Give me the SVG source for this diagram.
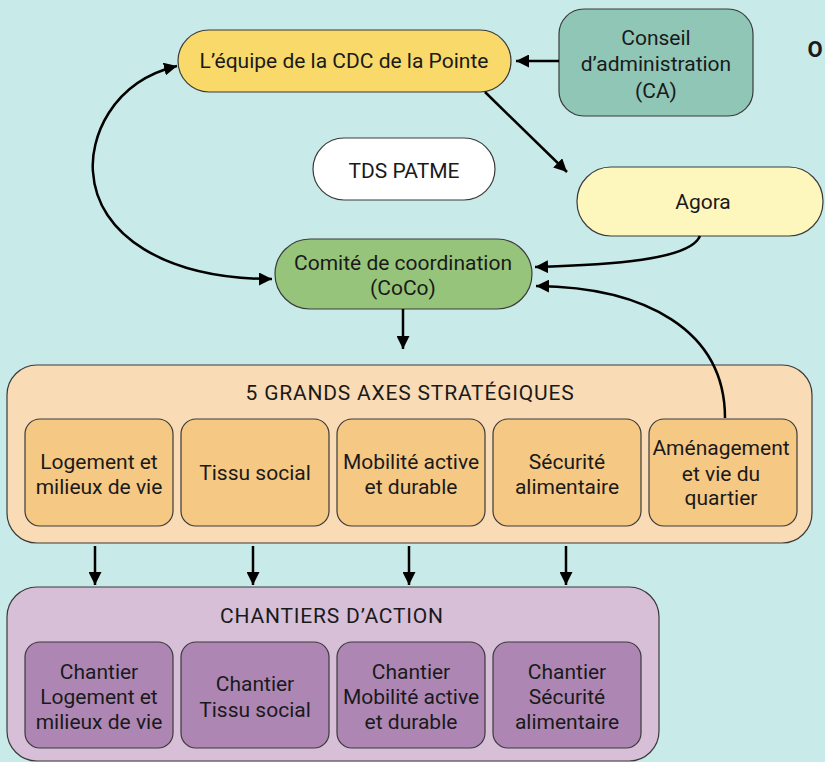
<svg xmlns="http://www.w3.org/2000/svg" width="825" height="762" viewBox="0 0 825 762">
<defs>
<style>
text{font-family:Roboto,"Liberation Sans",sans-serif;font-size:21px;fill:#1a1a1a;text-anchor:middle;dominant-baseline:central}
.tt{letter-spacing:0.8px}
.nd{stroke:#3a3a3a;stroke-width:1.2}
.ax{fill:#f5c884}
.ch{fill:#ae86b4}
.cn{fill:none;stroke:#000;stroke-width:2.5}
</style>
<marker id="ah" viewBox="0 0 12 12" refX="12" refY="6" markerWidth="13" markerHeight="13" markerUnits="userSpaceOnUse" orient="auto-start-reverse">
<path d="M0,0 L12,6 L0,12 z" fill="#000"/>
</marker>
</defs>
<rect width="825" height="762" fill="#c8eae8"/>
<text x="815" y="49" style="font-weight:bold;font-size:22px">O</text>

<g id="axes">
<rect class="nd" x="7" y="365" width="805" height="178" rx="30" fill="#f9dcb5"/>
<text class="tt" x="410" y="393">5 GRANDS AXES STRATÉGIQUES</text>
</g>
<g id="axe1"><rect class="nd ax" x="25" y="419" width="148" height="107" rx="15"/><text x="99" y="462">Logement et</text><text x="99" y="487">milieux de vie</text></g>
<g id="axe2"><rect class="nd ax" x="181" y="419" width="148" height="107" rx="15"/><text x="255" y="473">Tissu social</text></g>
<g id="axe3"><rect class="nd ax" x="337" y="419" width="148" height="107" rx="15"/><text x="411" y="462">Mobilité active</text><text x="411" y="487">et durable</text></g>
<g id="axe4"><rect class="nd ax" x="493" y="419" width="148" height="107" rx="15"/><text x="567" y="462">Sécurité</text><text x="567" y="487">alimentaire</text></g>
<g id="axe5"><rect class="nd ax" x="649" y="419" width="148" height="107" rx="15"/><text x="721" y="448">Aménagement</text><text x="721" y="474">et vie du</text><text x="721" y="498">quartier</text></g>

<g id="chantiers">
<rect class="nd" x="7" y="587" width="652" height="174" rx="30" fill="#d7bfd8"/>
<text class="tt" x="332" y="616">CHANTIERS D’ACTION</text>
</g>
<g id="ch1"><rect class="nd ch" x="25" y="642" width="148" height="106" rx="15"/><text x="99" y="672">Chantier</text><text x="99" y="697">Logement et</text><text x="99" y="722">milieux de vie</text></g>
<g id="ch2"><rect class="nd ch" x="181" y="642" width="148" height="106" rx="15"/><text x="255" y="684">Chantier</text><text x="255" y="710">Tissu social</text></g>
<g id="ch3"><rect class="nd ch" x="337" y="642" width="148" height="106" rx="15"/><text x="411" y="672">Chantier</text><text x="411" y="697">Mobilité active</text><text x="411" y="722">et durable</text></g>
<g id="ch4"><rect class="nd ch" x="493" y="642" width="148" height="106" rx="15"/><text x="567" y="672">Chantier</text><text x="567" y="697">Sécurité</text><text x="567" y="722">alimentaire</text></g>

<g id="equipe"><rect class="nd" x="178" y="30" width="333" height="62" rx="31" fill="#f8d96a"/><text x="344" y="61">L’équipe de la CDC de la Pointe</text></g>
<g id="ca"><rect class="nd" x="559" y="9" width="194" height="107" rx="25" fill="#8fc6b6"/><text x="656" y="38">Conseil</text><text x="656" y="64">d’administration</text><text x="656" y="91">(CA)</text></g>
<g id="tds"><rect class="nd" x="313" y="138" width="182" height="62" rx="31" fill="#ffffff"/><text x="404" y="171">TDS PATME</text></g>
<g id="agora"><rect class="nd" x="577" y="167" width="246" height="69" rx="34" fill="#fdf6bd"/><text x="703" y="202">Agora</text></g>
<g id="coco"><rect class="nd" x="275" y="239" width="257" height="70" rx="35" fill="#97c47b"/><text x="403" y="263">Comité de coordination</text><text x="403" y="288">(CoCo)</text></g>

<g id="connectors">
<path class="cn" d="M559,61 L516,61" marker-end="url(#ah)"/>
<path class="cn" d="M485,92 L567,172" marker-end="url(#ah)"/>
<path class="cn" d="M177,66 C110,82 90,140 93,172 C97,235 165,279 272,279" marker-start="url(#ah)" marker-end="url(#ah)"/>
<path class="cn" d="M700,236 C690,260 610,265 535,267" marker-end="url(#ah)"/>
<path class="cn" d="M725,418 C725,330 645,287 536,286" marker-end="url(#ah)"/>
<path class="cn" d="M403,309 L403,349" marker-end="url(#ah)"/>
<path class="cn" d="M95,546 L95,585" marker-end="url(#ah)"/>
<path class="cn" d="M253,546 L253,585" marker-end="url(#ah)"/>
<path class="cn" d="M409,546 L409,585" marker-end="url(#ah)"/>
<path class="cn" d="M566,546 L566,585" marker-end="url(#ah)"/>
</g>
</svg>
